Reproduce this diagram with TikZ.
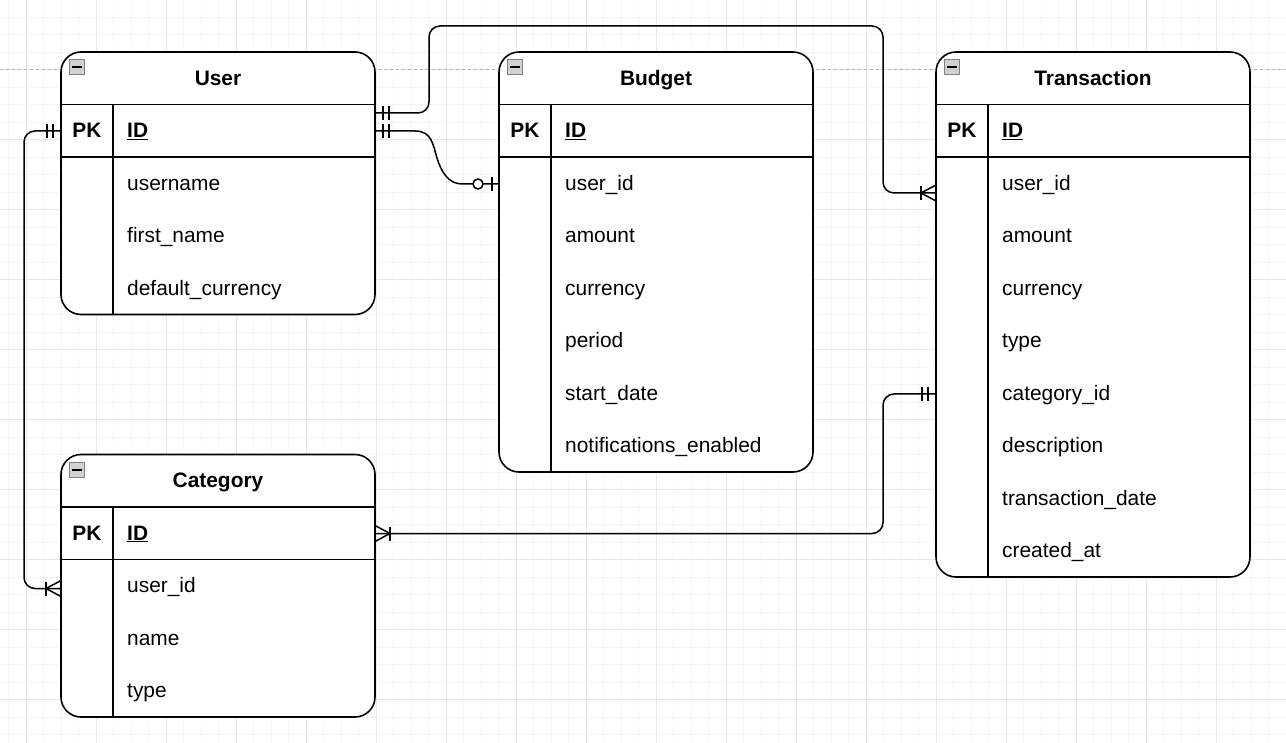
\documentclass[tikz,border=0pt]{standalone}
\usepackage{fontspec}
\setmainfont{Liberation Sans}
\usetikzlibrary{calc}
\tikzset{
  tablebox/.style={draw=black, line width=1.6pt, rounded corners=20pt, fill=white, minimum width=314pt, inner sep=0pt, outer sep=0pt},
  tline/.style={draw=black, line width=1.5pt},
  conn/.style={draw=black, line width=1.5pt},
  txt/.style={inner sep=0pt, font=\fontsize{20.9pt}{24pt}\selectfont, text height=18pt, text depth=4pt},
  boldtxt/.style={txt, font=\fontsize{20.9pt}{24pt}\selectfont\bfseries},
  rowtxt/.style={txt, anchor=west},
  iconbox/.style={draw=black!50, fill=black!18, line width=1pt, minimum size=15pt, inner sep=0pt},
  minorgrid/.style={draw=black!4, line width=0.8pt},
  majorgrid/.style={draw=black!9, line width=0.8pt},
  pageline/.style={draw=black!30, line width=0.8pt, dash pattern=on 3pt off 3pt},
}
\newcommand\ErTable[5]{%
  \node[tablebox, minimum height={(#4+2)*52.5pt}, anchor=north west] (#1) at (#2,#3) {};
  \draw[tline] ($(#1.north west)+(0,52.5)$) -- ($(#1.north east)+(0,52.5)$);
  \draw[tline] ($(#1.north west)+(0,105)$) -- ($(#1.north east)+(0,105)$);
  \draw[tline] ($(#1.north west)+(52,52.5)$) -- ($(#1.south west)+(52,0)$);
  \node[iconbox] (#1-icon) at ($(#1.north west)+(16,15.5)$) {};
  \draw[line width=2pt] ($(#1-icon.center)+(-5,0)$) -- ($(#1-icon.center)+(5,0)$);
  \node[boldtxt] (#1-title) at ($(#1.north)+(0,26.25)$) {#5};
  \node[boldtxt] (#1-pk) at ($(#1.north west)+(26,78.75)$) {PK};
  \node[boldtxt, anchor=west] (#1-id) at ($(#1.north west)+(66,78.75)$) {\underline{ID}};
}
\newcommand\ErRows[2]{%
  \foreach \t [count=\i] in {#2} {
    \node[rowtxt] (#1-r\i) at ($(#1.north west)+(66,{131.25+52.5*(\i-1)})$) {\t};
  }}
\newcommand\MarkMandOne[2]{%
  \draw[conn] ($(#1)+({#2*8},-7)$) -- ($(#1)+({#2*8},7)$)
              ($(#1)+({#2*14},-7)$) -- ($(#1)+({#2*14},7)$);}
\newcommand\MarkOneMany[2]{%
  \draw[conn] ($(#1)+({#2*15},-7)$) -- ($(#1)+({#2*15},7)$);
  \draw[conn] ($(#1)+(0,-8)$) -- ($(#1)+({#2*15},0)$) -- ($(#1)+(0,8)$);}
\newcommand\MarkZeroOne[2]{%
  \draw[conn] ($(#1)+({#2*7},-7)$) -- ($(#1)+({#2*7},7)$);
  \draw[conn, fill=white] ($(#1)+({#2*21},0)$) circle[radius=5pt];}
\begin{document}
\begin{tikzpicture}[x=1pt, y=-1pt]
  \useasboundingbox (0,0) rectangle (1286,743);
  \fill[white] (0,0) rectangle (1286,743);
  % grid
  \foreach \k in {0,...,73} {
    \pgfmathsetmacro\gx{8.5+17.5*\k}
    \draw[minorgrid] (\gx,0) -- (\gx,743);
  }
  \foreach \k in {0,...,41} {
    \pgfmathsetmacro\gy{17+17.5*\k}
    \draw[minorgrid] (0,\gy) -- (1286,\gy);
  }
  \foreach \gx in {26,96,...,1286} { \draw[majorgrid] (\gx,0) -- (\gx,743); }
  \foreach \gy in {69.5,139.5,...,743} { \draw[majorgrid] (0,\gy) -- (1286,\gy); }
  \draw[pageline] (0,69.5) -- (1286,69.5);

  % tables
  \ErTable{user}{61}{52}{3}{User}
  \ErRows{user}{username,first\_name,default\_currency}
  \ErTable{budget}{499}{52}{6}{Budget}
  \ErRows{budget}{user\_id,amount,currency,period,start\_date,notifications\_enabled}
  \ErTable{trans}{936}{52}{8}{Transaction}
  \ErRows{trans}{user\_id,amount,currency,type,category\_id,description,transaction\_date,created\_at}
  \ErTable{cat}{61}{454.5}{3}{Category}
  \ErRows{cat}{user\_id,name,type}

  % connector end points
  \coordinate (c1a) at ($(user.north east)+(0,61)$);
  \coordinate (c1b) at ($(trans.north west)+(0,141)$);
  \coordinate (c2a) at ($(user.north east)+(0,79)$);
  \coordinate (c2b) at ($(budget.north west)+(0,132)$);
  \coordinate (c3a) at ($(user.north west)+(0,79)$);
  \coordinate (c3b) at ($(cat.north west)+(0,134)$);
  \coordinate (c4a) at ($(cat.north east)+(0,79)$);
  \coordinate (c4b) at ($(trans.north west)+(0,342)$);

  % connectors
  \draw[conn, rounded corners=11pt] (c1a) -- ++(54,0) |- ($(c1b)+(-53,-167)$) |- (c1b);
  \draw[conn] (c2a) -- ($(c2a)+(40,0)$)
    .. controls ($(c2a)+(57,0)$) and ($(c2a)+(58,14)$) .. ($(c2a)+(62,27)$)
    .. controls ($(c2a)+(66,40)$) and ($(c2a)+(73,53)$) .. ($(c2a)+(87,53)$)
    -- (c2b);
  \draw[conn, rounded corners=11pt] (c3a) -- ++(-37,0) |- (c3b);
  \draw[conn, rounded corners=11pt] (c4a) -| ($(c4b)+(-53,0)$) -- (c4b);

  % end markers
  \MarkMandOne{c1a}{1}
  \MarkOneMany{c1b}{-1}
  \MarkMandOne{c2a}{1}
  \MarkZeroOne{c2b}{-1}
  \MarkMandOne{c3a}{-1}
  \MarkOneMany{c3b}{-1}
  \MarkOneMany{c4a}{1}
  \MarkMandOne{c4b}{-1}
\end{tikzpicture}
\end{document}
